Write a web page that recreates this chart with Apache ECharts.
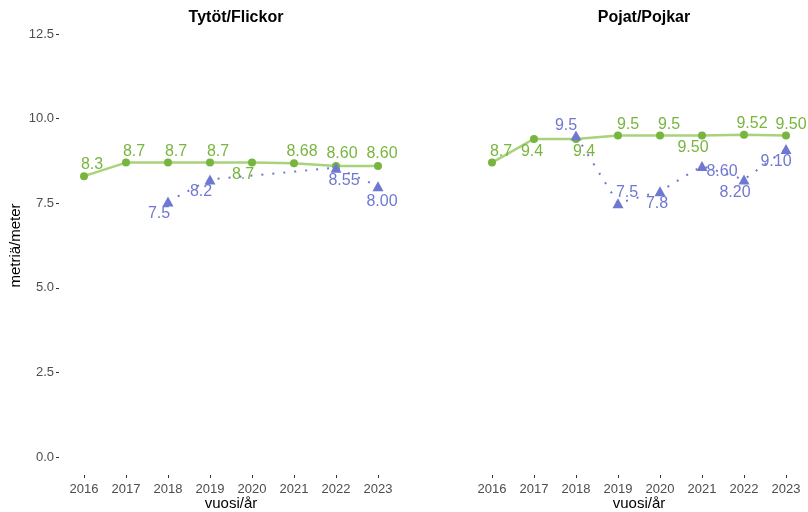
<!DOCTYPE html>
<html>
<head>
<meta charset="utf-8">
<script src="https://cdn.jsdelivr.net/npm/echarts@6/dist/echarts.min.js"></script>
<style>
  html, body { margin: 0; padding: 0; background: #fff; }
  #main { width: 808px; height: 512px; }
</style>
</head>
<body>
<div id="main"></div>
<script>
// data
var years = ['2016', '2017', '2018', '2019', '2020', '2021', '2022', '2023'];
var yTicks = [0, 2.5, 5, 7.5, 10, 12.5];

var girlsGreen     = [8.3, 8.7, 8.7, 8.7, 8.7, 8.68, 8.6, 8.6];
var girlsGreenText = ['8.3', '8.7', '8.7', '8.7', '8.7', '8.68', '8.60', '8.60'];
var girlsBlue      = ['-', '-', 7.55, 8.2, '-', '-', 8.55, 8.0];
var girlsBlueText  = ['', '', '7.5', '8.2', '', '', '8.55', '8.00'];

var boysGreen      = [8.7, 9.4, 9.4, 9.5, 9.5, 9.5, 9.52, 9.5];
var boysGreenText  = ['8.7', '9.4', '9.4', '9.5', '9.5', '9.50', '9.52', '9.50'];
var boysBlue       = ['-', '-', 9.5, 7.5, 7.85, 8.6, 8.2, 9.1];
var boysBlueText   = ['', '', '9.5', '7.5', '7.8', '8.60', '8.20', '9.10'];

// label nudges (pixels), kept apart from the values
var girlsGreenOff = [[8, -12], [8, -11], [8, -11], [8, -11], [-9, 12], [8, -12], [6, -12], [4, -12]];
var girlsBlueOff  = [[0, 0], [0, 0], [-9, 12], [-9, 12], [0, 0], [0, 0], [8, 13], [4, 15]];
var boysGreenOff  = [[9, -11], [-2, 13], [8, 13], [10, -11], [9, -11], [-9, 12], [8, -11], [5, -11]];
var boysBlueOff   = [[0, 0], [0, 0], [-10, -10], [9, -11], [-3, 12], [20, 6], [-9, 13], [-10, 13]];

var GREEN = '#78b53e', GREEN_LINE = '#a9d27c';
var BLUE = '#6f78d0';
var FONT = '"Liberation Sans", Arial, sans-serif';

function points(vals, texts, offs, color) {
    return vals.map(function (v, i) {
        return {
            value: v,
            label: { show: v !== '-', formatter: texts[i], offset: offs[i], color: color }
        };
    });
}

function xAxisFor(idx) {
    return {
        type: 'category', gridIndex: idx, data: years,
        boundaryGap: true, offset: 18,
        axisLine: { show: false, onZero: false },
        axisTick: { show: true, length: 3, alignWithLabel: true, lineStyle: { color: '#333' } },
        axisLabel: { color: '#4d4d4d', fontSize: 13, fontFamily: FONT, margin: 8 },
        name: 'vuosi/år', nameLocation: 'middle', nameGap: 21, nameMoveOverlap: false,
        nameTextStyle: { color: '#000', fontSize: 15, fontFamily: FONT },
        splitLine: { show: false }
    };
}

function yAxisFor(idx, withLabels) {
    return {
        type: 'value', gridIndex: idx, min: 0, max: 12.5, interval: 2.5, offset: 4,
        axisLine: { show: false, onZero: false },
        axisTick: { show: withLabels, length: 3, lineStyle: { color: '#333' } },
        axisLabel: {
            show: withLabels, color: '#4d4d4d', fontSize: 13, fontFamily: FONT, margin: 5,
            formatter: function (v) { return v.toFixed(1); }
        },
        splitLine: { show: false },
        name: withLabels ? 'metriä/meter' : '', nameLocation: 'middle', nameGap: 36,
        nameMoveOverlap: false,
        nameTextStyle: { color: '#000', fontSize: 15, fontFamily: FONT }
    };
}

function greenSeries(idx, vals, texts, offs) {
    return {
        type: 'line', xAxisIndex: idx, yAxisIndex: idx,
        data: points(vals, texts, offs, GREEN),
        symbol: 'circle', symbolSize: 8,
        itemStyle: { color: GREEN },
        lineStyle: { color: GREEN_LINE, width: 2.5 },
        label: { position: 'inside', fontSize: 16, fontFamily: FONT },
        animation: false, z: 2
    };
}

function blueSeries(idx, vals, texts, offs) {
    return {
        type: 'line', xAxisIndex: idx, yAxisIndex: idx,
        data: points(vals, texts, offs, BLUE),
        connectNulls: true,
        symbol: 'triangle', symbolSize: [11, 10],
        itemStyle: { color: BLUE },
        lineStyle: { color: BLUE, width: 2, type: [2, 9] },
        label: { position: 'inside', fontSize: 16, fontFamily: FONT },
        animation: false, z: 3
    };
}

var chart = echarts.init(document.getElementById('main'));
var option = {
    backgroundColor: '#fff',
    title: [
        { text: 'Tytöt/Flickor', left: 231, top: 5, textAlign: 'center',
          textStyle: { fontSize: 16, fontWeight: 'bold', color: '#000', fontFamily: FONT } },
        { text: 'Pojat/Pojkar', left: 639, top: 5, textAlign: 'center',
          textStyle: { fontSize: 16, fontWeight: 'bold', color: '#000', fontFamily: FONT } }
    ],
    grid: [
        { left: 63, width: 336, top: 34, bottom: 55, outerBoundsMode: 'none', containLabel: false },
        { left: 471, width: 336, top: 34, bottom: 55, outerBoundsMode: 'none', containLabel: false }
    ],
    xAxis: [xAxisFor(0), xAxisFor(1)],
    yAxis: [yAxisFor(0, true), yAxisFor(1, false)],
    series: [
        greenSeries(0, girlsGreen, girlsGreenText, girlsGreenOff),
        blueSeries(0, girlsBlue, girlsBlueText, girlsBlueOff),
        greenSeries(1, boysGreen, boysGreenText, boysGreenOff),
        blueSeries(1, boysBlue, boysBlueText, boysBlueOff)
    ]
};
chart.setOption(option);
</script>
</body>
</html>
